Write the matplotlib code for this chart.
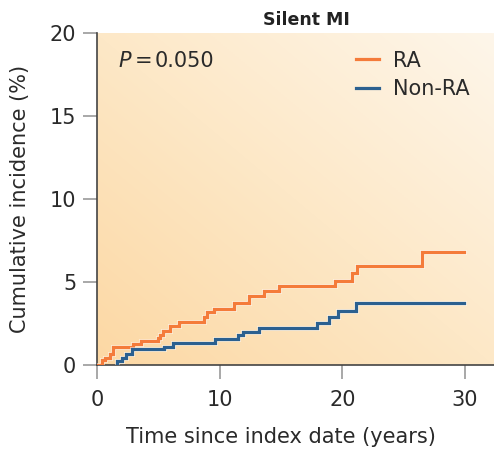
import numpy as np
import matplotlib
matplotlib.use("Agg")
import matplotlib.pyplot as plt
from matplotlib.colors import LinearSegmentedColormap
import matplotlib.patheffects as pe

plt.rcParams['font.family'] = ['DejaVu Sans']

# ---- data ----
ra_time = [0, 0.38, 0.65, 1.1, 1.28, 2.96, 3.6, 5.0, 5.13, 5.35, 5.95, 6.7,
           8.75, 8.94, 9.5, 11.2, 12.4, 13.6, 14.8, 19.4, 20.8, 21.2, 26.5, 29.9]
ra_inc = [0, 0.3, 0.44, 0.66, 1.1, 1.27, 1.45, 1.6, 1.8, 2.05, 2.37, 2.6,
          2.87, 3.17, 3.4, 3.75, 4.17, 4.48, 4.78, 5.08, 5.56, 5.96, 6.79, 6.79]
nonra_time = [1.6, 1.6, 2.0, 2.36, 2.83, 5.46, 6.17, 9.6, 11.5, 11.9, 13.2,
              17.96, 18.9, 19.67, 21.1, 29.9]
nonra_inc = [0, 0.26, 0.4, 0.64, 0.96, 1.1, 1.3, 1.57, 1.8, 2.0, 2.25,
             2.55, 2.87, 3.27, 3.75, 3.75]
series_names = ["RA", "Non-RA"]
x_ticks = [0, 10, 20, 30]
y_ticks = [0, 5, 10, 15, 20]
title = "Silent MI"
p_symbol = "P"
p_equals = "="
p_value = "0.050"

ORANGE = "#F47B3A"
BLUE = "#2B6090"
TXT = "#2a2a2a"

fig = plt.figure(figsize=(4.94, 4.50), dpi=100)
ax = fig.add_axes([97/494, 1-365/450, 397/494, 332/450])

# gradient background
nx, ny = 200, 200
gx = np.linspace(0, 1, nx)[None, :]
gy = np.linspace(0, 1, ny)[:, None]
g = (gx + gy) / 2.0
cmap = LinearSegmentedColormap.from_list("bg", ["#FCD8A4", "#FDE8C7", "#FEF6EA"])
ax.imshow(g, cmap=cmap, origin="lower", extent=[0, 1, 0, 1],
          transform=ax.transAxes, aspect="auto", zorder=0, interpolation="bilinear")

halo = [pe.Stroke(linewidth=3.6, foreground="white", alpha=0.5), pe.Normal()]
ax.step(ra_time, ra_inc, where="post", color=ORANGE, lw=2.3,
        label=series_names[0], zorder=3, path_effects=halo, solid_joinstyle="miter")
ax.step(nonra_time, nonra_inc, where="post", color=BLUE, lw=2.3,
        label=series_names[1], zorder=3, path_effects=halo, solid_joinstyle="miter")

ax.set_xlim(0, (494-97)/((465-97)/30))
ax.set_ylim(0, 20)
ax.set_xticks(x_ticks)
ax.set_yticks(y_ticks)

for s in ["top", "right"]:
    ax.spines[s].set_visible(False)
for s in ["left", "bottom"]:
    ax.spines[s].set_color("#444444")
    ax.spines[s].set_linewidth(1.2)

ax.tick_params(axis="both", direction="out", length=10, width=1.2,
               color="#999999", labelsize=15, labelcolor=TXT, pad=5)
ax.tick_params(axis="x", pad=8)

ax.set_xlabel("Time since index date (years)", fontsize=15, color=TXT)
ax.xaxis.set_label_coords((281-97)/397, -(437-365)/332, transform=ax.transAxes)
ax.xaxis.label.set_va("center")
ax.set_ylabel("Cumulative incidence (%)", fontsize=15, color=TXT)
ax.yaxis.set_label_coords(-(97-20)/397, 0.5, transform=ax.transAxes)
ax.yaxis.label.set_va("center")

ax.text(17.1, 20.25, title, ha="center", va="bottom", fontsize=12.5,
        fontweight="bold", color="#222222")
ax.text(1.71, 17.95, p_symbol, fontstyle="italic", fontsize=15, color=TXT,
        ha="left", va="baseline")
ax.text(3.05, 17.95, p_equals, fontsize=15, color=TXT, ha="left", va="baseline")
ax.text(4.72, 17.95, p_value, fontsize=15, color=TXT, ha="left", va="baseline")

leg = ax.legend(loc="upper left", bbox_to_anchor=(0.652, 0.947), frameon=False,
                fontsize=15, handlelength=1.1, handletextpad=0.7,
                labelspacing=0.4, borderpad=0, borderaxespad=0, labelcolor=TXT)
for h in leg.get_lines():
    h.set_linewidth(2.3)
    h.set_path_effects([])

fig.savefig("out.png", dpi=100)
